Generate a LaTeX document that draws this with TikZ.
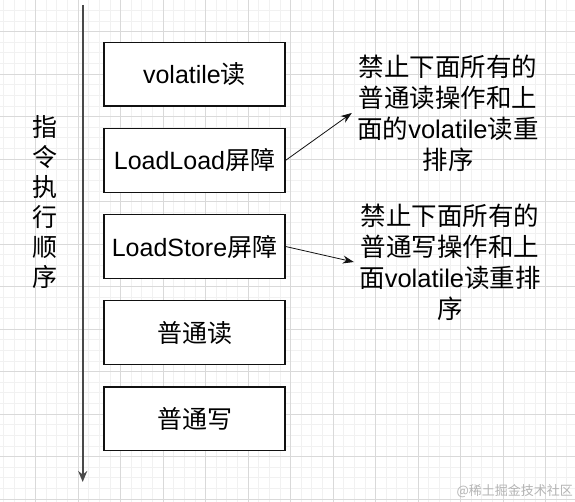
\documentclass[tikz,border=0pt]{standalone}
\usepackage{fontspec}
\setmainfont{Noto Sans CJK SC}
\newfontfamily\latinfont{Liberation Sans}
\usetikzlibrary{arrows.meta,positioning}
\definecolor{GridMinor}{HTML}{F1F1F1}
\definecolor{GridMajor}{HTML}{D9D9D9}
\definecolor{Ink}{HTML}{111111}
\definecolor{AxisGray}{HTML}{4A4A4A}
\definecolor{MarkGray}{HTML}{B4B4B4}
\newcommand{\lat}[1]{{\latinfont #1}}
\tikzset{
  stepbox/.style={draw=Ink,line width=1.1pt,fill=white,minimum width=181pt,
              minimum height=63.5pt,inner sep=0pt,font=\fontsize{25}{30}\selectfont},
  remark/.style={align=center,text width=190pt,inner sep=1pt,
              font=\fontsize{25.5}{31}\selectfont},
  flow/.style={-{Stealth[length=11pt,width=8pt]},line width=0.8pt,draw=Ink},
  orderaxis/.style={-{Stealth[length=11pt,width=9pt]},line width=1.8pt,draw=AxisGray},
  minorgrid/.style={draw=GridMinor,line width=0.7pt},
  majorgrid/.style={draw=GridMajor,line width=0.7pt}
}

\begin{document}
\begin{tikzpicture}[x=1pt,y=-1pt,node distance=21.5pt]
  \useasboundingbox (0,0) rectangle (575,502);
  % background grid
  \fill[white] (0,0) rectangle (575,502);
  \foreach \i in {0,...,54}
    \draw[minorgrid] ({3.625+\i*10.625},0) -- ({3.625+\i*10.625},502);
  \foreach \j in {1,...,47}
    \draw[minorgrid] (0,{-0.375+\j*10.625}) -- (575,{-0.375+\j*10.625});
  \foreach \i in {1,...,13}
    \draw[majorgrid] ({-7+\i*42.5},0) -- ({-7+\i*42.5},502);
  \foreach \j in {0,...,11}
    \draw[majorgrid] (0,{31.5+\j*42.5}) -- (575,{31.5+\j*42.5});

  % execution order axis
  \coordinate (axistop) at (82.7,5);
  \coordinate (axisend) at (82.7,482);
  \draw[orderaxis] (axistop) -- (axisend);
  \node[align=center,inner sep=0pt,font=\fontsize{25}{30}\selectfont] (order) at (45,202)
    {指\\令\\执\\行\\顺\\序};

  % instruction sequence
  \node[stepbox] (vread) at (194.5,74.3) {\lat{volatile}读};
  \node[stepbox,below=of vread] (loadload) {\lat{LoadLoad}屏障};
  \node[stepbox,below=of loadload] (loadstore) {\lat{LoadStore}屏障};
  \node[stepbox,below=of loadstore] (nread) {普通读};
  \node[stepbox,below=of nread] (nwrite) {普通写};

  % explanations
  \node[remark] (llnote) at (448,113)
    {禁止下面所有的\\普通读操作和上\\面的\lat{volatile}读重\\排序};
  \node[remark] (lsnote) at (450,262)
    {禁止下面所有的\\普通写操作和上\\面\lat{volatile}读重排\\序};

  \draw[flow] (loadload.east) -- (llnote.west);
  \draw[flow] (loadstore.east) -- (lsnote.west);

  \node[anchor=east,inner sep=0pt,text=MarkGray,font=\fontsize{13}{13}\selectfont]
    (mark) at (573,491) {@稀土掘金技术社区};
\end{tikzpicture}
\end{document}
